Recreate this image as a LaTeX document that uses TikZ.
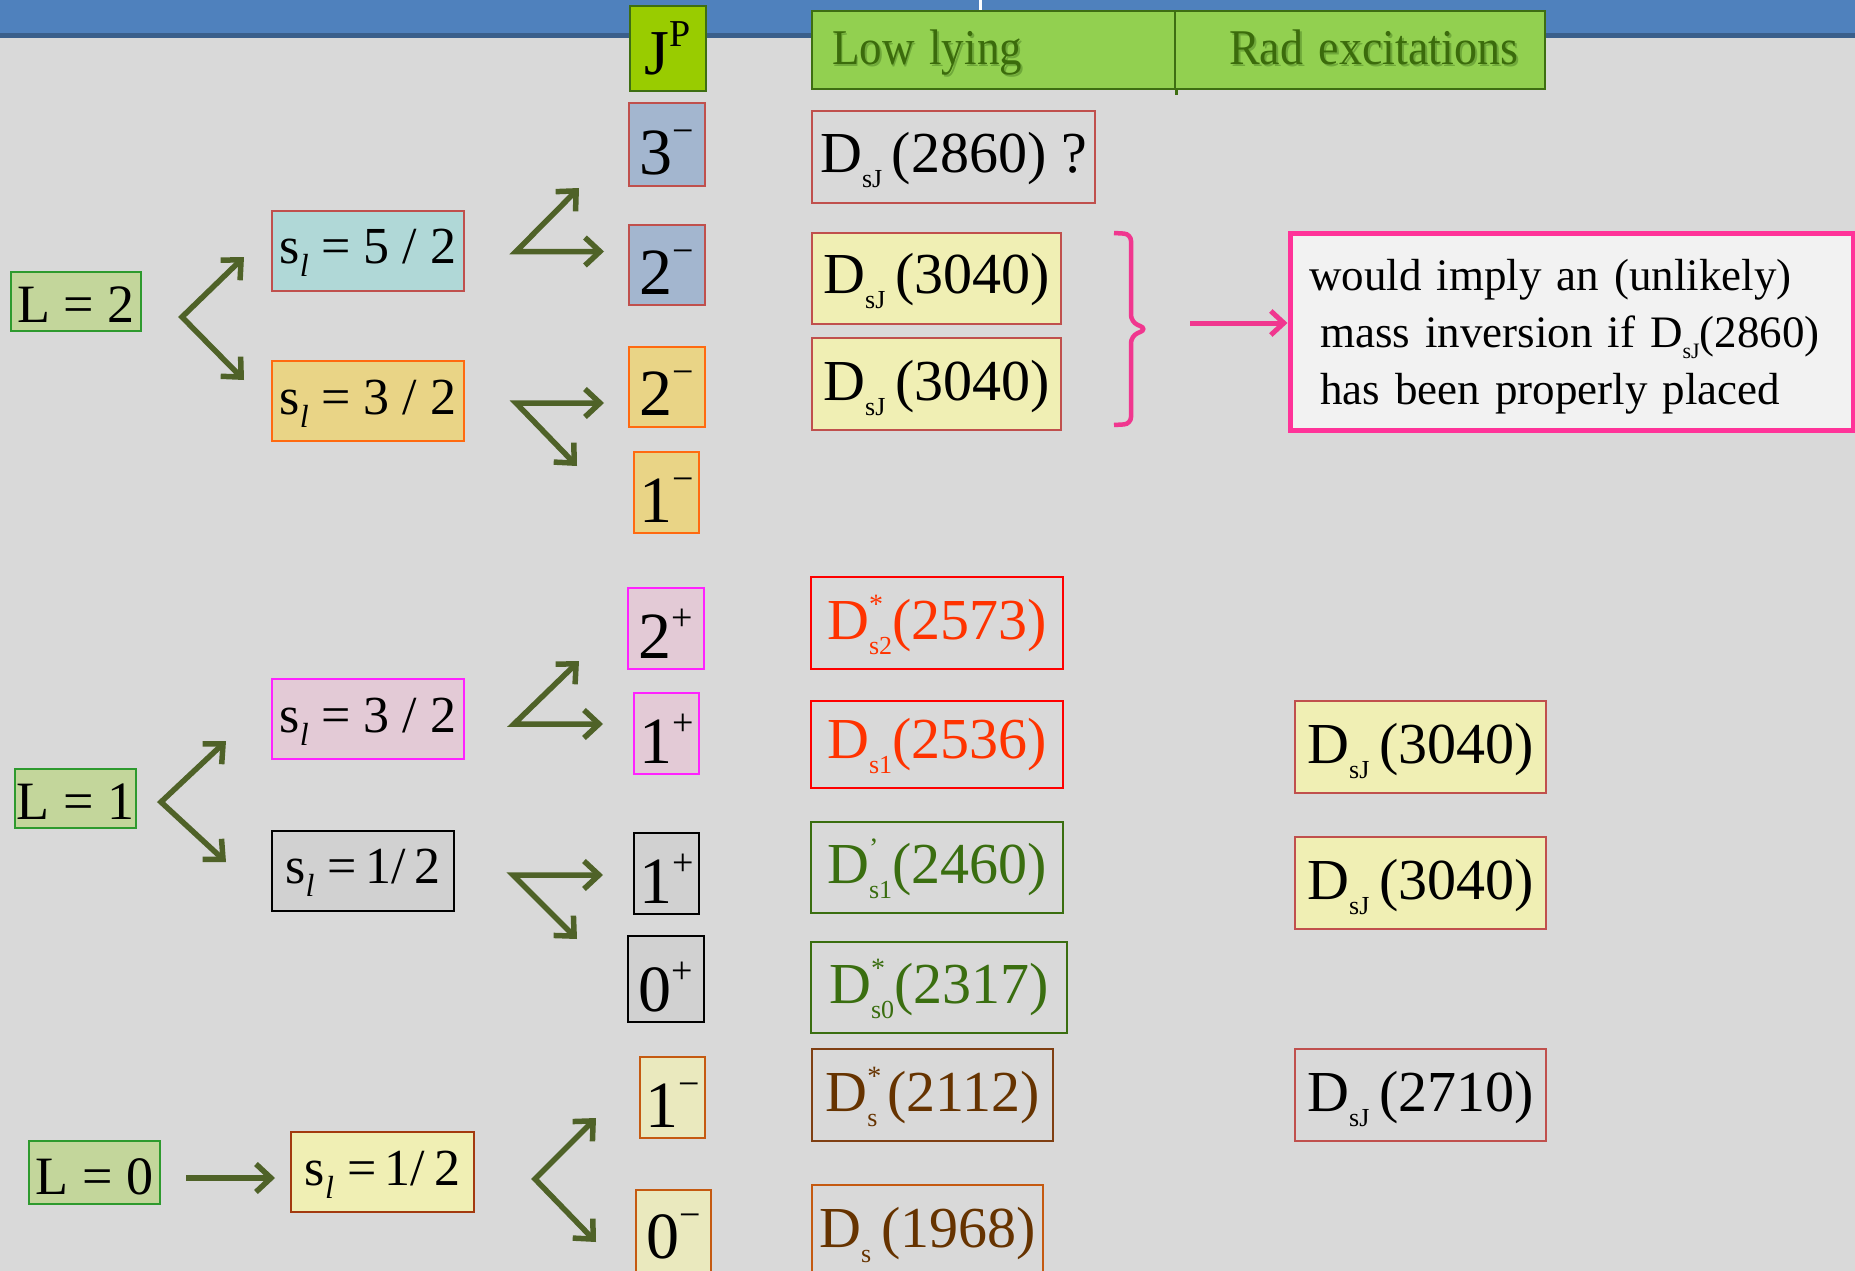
\documentclass[tikz,border=0pt]{standalone}
\usepackage{fontspec}
\usepackage{graphicx}
\setmainfont{Liberation Serif}
\usetikzlibrary{arrows.meta}
\definecolor{bg}{HTML}{D9D9D9}
\definecolor{hdrblue}{HTML}{4F81BD}
\definecolor{hdrdark}{HTML}{3A5F8B}
\definecolor{jpfill}{HTML}{99CC00}
\definecolor{hdrborder}{HTML}{3E6E12}
\definecolor{lowfill}{HTML}{92D050}
\definecolor{hdrtext}{HTML}{3B6B0C}
\definecolor{hdrshadow}{HTML}{6FA83A}
\definecolor{Lfill}{HTML}{C3D69B}
\definecolor{Lborder}{HTML}{2E9A2E}
\definecolor{tealfill}{HTML}{B0D8D7}
\definecolor{redborder}{HTML}{C0504D}
\definecolor{bluefill}{HTML}{A3B6CF}
\definecolor{orfill}{HTML}{E9D486}
\definecolor{orborder}{HTML}{FF6A10}
\definecolor{pkfill}{HTML}{E3CAD6}
\definecolor{magborder}{HTML}{FF22FF}
\definecolor{grfill}{HTML}{D1D1D1}
\definecolor{yelfill}{HTML}{F0EFB4}
\definecolor{l0border}{HTML}{A33A0F}
\definecolor{ltyel}{HTML}{EAE9BE}
\definecolor{ltborder}{HTML}{C55A11}
\definecolor{redtxt}{HTML}{FF3300}
\definecolor{redline}{HTML}{FF0000}
\definecolor{grntxt}{HTML}{3A6E10}
\definecolor{browntxt}{HTML}{663300}
\definecolor{brownline}{HTML}{7F3F12}
\definecolor{pinkline}{HTML}{F0378F}
\definecolor{notebord}{HTML}{FF3399}
\definecolor{notefill}{HTML}{F2F2F2}
\definecolor{olivearr}{HTML}{4F6228}
\newcommand\Dsub[1]{D\raisebox{-15pt}{\fontsize{26}{26}\selectfont #1}}
\newcommand\Dsup[2]{D\rlap{\raisebox{26pt}{\fontsize{28}{28}\selectfont #1}}\raisebox{-15pt}{\fontsize{26}{26}\selectfont #2}}
\newcommand\Ell{s\raisebox{-13pt}{\fontsize{32}{32}\selectfont\itshape l}}
\newcommand\SupP[1]{#1\raisebox{28pt}{\fontsize{38}{38}\selectfont +}}
\newcommand\SupM[1]{#1\raisebox{31pt}{\fontsize{38}{38}\selectfont −}}
\newcommand\Shd[1]{\rlap{\hspace{2pt}\raisebox{-2pt}{\textcolor{hdrshadow}{#1}}}#1}
\begin{document}
\begin{tikzpicture}[x=1pt,y=-1pt,
  box/.style={draw, inner sep=0pt, line width=2pt, align=center},
  hdr/.style={box, fill=lowfill, draw=hdrborder, line width=2.5pt, text=hdrtext,
    font=\fontsize{50}{50}\selectfont, text height=54pt, text depth=24pt},
  jpbox/.style={box, fill=jpfill, draw=hdrborder, line width=2.5pt,
    font=\fontsize{64}{64}\selectfont, text height=69pt, text depth=16pt, minimum width=76pt},
  Lbox/.style={box, fill=Lfill, draw=Lborder, line width=2.5pt,
    font=\fontsize{54}{54}\selectfont, text height=50pt, text depth=9pt},
  sbox/.style={box, font=\fontsize{52}{52}\selectfont, text height=53pt, text depth=27pt},
  jbox/.style={box, font=\fontsize{66}{66}\selectfont, text height=69pt, text depth=11pt},
  dbox/.style={box, font=\fontsize{58}{58}\selectfont, text height=61pt, text depth=30pt},
  yel/.style={fill=yelfill, draw=redborder},
  fork/.style={draw=olivearr, line width=5.5pt,
    {Straight Barb[length=15pt,width=28pt]}-{Straight Barb[length=15pt,width=28pt]}},
  onearr/.style={draw=olivearr, line width=5.5pt, -{Straight Barb[length=15pt,width=28pt]}},
  pinkarr/.style={draw=pinkline, line width=5pt, -{Straight Barb[length=13pt,width=24pt]}},
  notetxt/.style={inner sep=0pt, text width=540pt, align=left, font=\fontsize{45}{57}\selectfont}
]
\useasboundingbox (0,0) rectangle (1855,1271);
\clip (0,0) rectangle (1855,1271);
\fill[bg] (0,0) rectangle (1855,1271);
\fill[hdrblue] (0,0) rectangle (1855,33);
\fill[hdrdark] (0,33) rectangle (1855,38);
\draw[white, line width=3pt] (980,0) -- (980,10);

% header
\node[jpbox] (jp) at (668,48.5) {J\raisebox{28pt}{\fontsize{38}{38}\selectfont P}};
\node[hdr, text width=323pt, align=left, inner xsep=20pt] (low) at (993.5,50) {\scalebox{0.9}[1]{\Shd{Low lying}}};
\node[hdr, text width=316pt, align=right, inner xsep=27pt] (rad) at (1360,50) {\scalebox{0.92}[1]{\Shd{Rad excitations}}};
\draw[hdrborder, line width=2.5pt] (low.south east) -- ([yshift=-5pt]low.south east);

% L = 2 block
\node[Lbox, minimum width=130pt] (L2) at (76,301.5) {L = 2};
\node[sbox, fill=tealfill, draw=redborder, minimum width=192pt] (s52) at (368,250.5) {\Ell\ = 5 / 2};
\node[sbox, fill=orfill, draw=orborder, minimum width=192pt] (s32o) at (368,401) {\Ell\ = 3 / 2};
\node[jbox, fill=bluefill, draw=redborder, minimum width=76pt, text height=72pt] (j3m) at (667,144.5) {\SupM{3}};
\node[jbox, fill=bluefill, draw=redborder, minimum width=76pt] (j2mb) at (667,265) {\SupM{2}};
\node[jbox, fill=orfill, draw=orborder, minimum width=76pt] (j2mo) at (667,386.5) {\SupM{2}};
\node[jbox, fill=orfill, draw=orborder, minimum width=65pt, text height=70pt] (j1mo) at (666.5,492.5) {\SupM{1}};

\coordinate (f1a) at (244,257); \coordinate (f1v) at (182,317); \coordinate (f1b) at (244,380);
\draw[fork] (f1a) -- (f1v) -- (f1b);
\coordinate (f2a) at (579,188); \coordinate (f2v) at (516,251.5); \coordinate (f2b) at (604,251.5);
\draw[fork] (f2a) -- (f2v) -- (f2b);
\coordinate (f3a) at (604,403); \coordinate (f3v) at (516,403); \coordinate (f3b) at (577,466);
\draw[fork] (f3a) -- (f3v) -- (f3b);

% L = 1 block
\node[Lbox, minimum width=121pt] (L1) at (75.5,798.5) {L = 1};
\node[sbox, fill=pkfill, draw=magborder, minimum width=192pt] (s32p) at (368,719) {\Ell\ = 3 / 2};
\node[sbox, fill=grfill, draw=black, minimum width=182pt] (s12g) at (363,870.5) {\Ell\ =\,1/\,2};
\node[jbox, fill=pkfill, draw=magborder, minimum width=76pt, text height=70pt] (j2p) at (666,628.5) {\SupP{2}};
\node[jbox, fill=pkfill, draw=magborder, minimum width=65pt, text height=70pt] (j1p) at (666.5,733.5) {\SupP{1}};
\node[jbox, fill=grfill, draw=black, minimum width=65pt, text height=70pt] (j1pg) at (666.5,873.5) {\SupP{1}};
\node[jbox, fill=grfill, draw=black, minimum width=76pt, text height=75pt] (j0p) at (666,979) {\SupP{0}};

\coordinate (f4a) at (226,741); \coordinate (f4v) at (161,802); \coordinate (f4b) at (226,862);
\draw[fork] (f4a) -- (f4v) -- (f4b);
\coordinate (f5a) at (579,661); \coordinate (f5v) at (514,724); \coordinate (f5b) at (603,724);
\draw[fork] (f5a) -- (f5v) -- (f5b);
\coordinate (f6a) at (603,875); \coordinate (f6v) at (513,875); \coordinate (f6b) at (577,939);
\draw[fork] (f6a) -- (f6v) -- (f6b);

% L = 0 block
\node[Lbox, minimum width=131pt, text height=53pt, text depth=10pt] (L0) at (94.5,1172.5) {L = 0};
\node[sbox, fill=yelfill, draw=l0border, minimum width=183pt] (s12y) at (382.5,1172) {\Ell\ =\,1/\,2};
\node[jbox, fill=ltyel, draw=ltborder, minimum width=65pt, text height=70pt] (j1m) at (672.5,1097.5) {\SupM{1}};
\node[jbox, fill=ltyel, draw=ltborder, minimum width=75pt, text height=68pt, text depth=20pt] (j0m) at (673.5,1234) {\SupM{0}};
\coordinate (l0s) at (186,1178);
\coordinate (l0e) at (275,1178);
\draw[onearr] (l0s) -- (l0e);
\coordinate (f7a) at (596,1118); \coordinate (f7v) at (535,1179); \coordinate (f7b) at (596,1242);
\draw[fork] (f7a) -- (f7v) -- (f7b);

% low lying states
\node[dbox, draw=redborder, minimum width=283pt] (d2860) at (953.5,157) {\Dsub{sJ}\,(2860) ?};
\node[dbox, yel, minimum width=249pt] (d3040a) at (936.5,278) {\Dsub{sJ}\,(3040)};
\node[dbox, yel, minimum width=249pt, text height=62pt] (d3040b) at (936.5,384) {\Dsub{sJ}\,(3040)};
\node[dbox, draw=redline, text=redtxt, minimum width=252pt, text height=62pt] (d2573) at (937,623) {\Dsup{*}{s2}(2573)};
\node[dbox, draw=redline, text=redtxt, minimum width=252pt, text height=57pt] (d2536) at (937,744.5) {\Dsub{s1}(2536)};
\node[dbox, draw=grntxt, text=grntxt, minimum width=252pt] (d2460) at (937,867.5) {\Dsup{’}{s1}(2460)};
\node[dbox, draw=grntxt, text=grntxt, minimum width=256pt] (d2317) at (939,987.5) {\Dsup{*}{s0}(2317)};
\node[dbox, draw=brownline, text=browntxt, minimum width=241pt, text height=62pt] (d2112) at (932.5,1095) {\Dsup{*}{s}\,(2112)};
\node[dbox, draw=ltborder, text=browntxt, minimum width=231pt, text height=62pt] (d1968) at (927.5,1231) {\Dsub{s}\,(1968)};

% radial excitations
\node[dbox, yel, minimum width=251pt, text height=62pt] (r3040a) at (1420.5,747) {\Dsub{sJ}\,(3040)};
\node[dbox, yel, minimum width=251pt, text height=62pt] (r3040b) at (1420.5,883) {\Dsub{sJ}\,(3040)};
\node[dbox, draw=redborder, minimum width=251pt, text height=62pt] (r2710) at (1420.5,1095) {\Dsub{sJ}\,(2710)};

% brace, arrow and note
\draw[pinkline, line width=4.5pt, rounded corners=7pt]
  (1114,233) -- (1131,234) -- (1131,322) -- (1147,329) -- (1131,336) -- (1131,424) -- (1114,425);
\node[box, fill=notefill, draw=notebord, line width=5pt, minimum width=563pt, minimum height=197pt] (note) at (1571.5,331.5) {};
\node[notetxt, anchor=north west] (notet) at (1309,259)
  {would imply an (unlikely)\\\hspace*{11pt}mass inversion if D\raisebox{-11pt}{\fontsize{22}{22}\selectfont sJ}(2860)\\\hspace*{11pt}has been properly placed};
\coordinate (pa) at (1190,323);
\draw[pinkarr] (pa) -- (pa -| note.west);
\end{tikzpicture}
\end{document}
